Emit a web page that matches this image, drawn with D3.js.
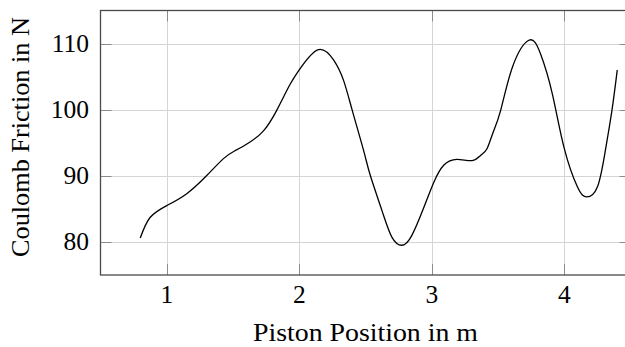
<!DOCTYPE html>
<html>
<head>
<meta charset="utf-8">
<script src="https://cdn.jsdelivr.net/npm/d3@7"></script>
<style>
  html, body { margin: 0; padding: 0; background: #fff; }
</style>
</head>
<body>
<svg id="chart" width="625" height="347"></svg>
<script>
// Coulomb friction along the piston stroke
const position = [0.80, 0.874, 1.0, 1.151, 1.30, 1.428, 1.516, 1.62, 1.73, 1.83, 1.93, 2.02, 2.146, 2.26, 2.335, 2.40, 2.486, 2.537, 2.625, 2.70, 2.776, 2.85, 2.94, 3.015, 3.09, 3.19, 3.305, 3.37, 3.417, 3.46, 3.52, 3.61, 3.733, 3.82, 3.91, 3.998, 4.10, 4.17, 4.25, 4.31, 4.36, 4.40];
const friction = [80.6, 83.7, 85.5, 87.3, 90.0, 92.6, 93.8, 95.0, 96.8, 99.9, 103.8, 106.6, 109.1, 107.5, 104.4, 99.9, 93.8, 90.0, 84.7, 80.7, 79.5, 81.0, 85.2, 89.0, 91.6, 92.5, 92.3, 93.1, 94.1, 96.4, 99.9, 106.5, 110.5, 108.5, 102.4, 94.3, 88.3, 86.8, 88.3, 93.8, 99.9, 106.0];
const xTicks = [1, 2, 3, 4];
const yTicks = [80, 90, 100, 110];

const serif = "'Liberation Serif', 'Times New Roman', Times, 'DejaVu Serif', serif";
const svg = d3.select("#chart");
const plotLeft = 100.5, plotRight = 630.5, plotTop = 10.5, plotBottom = 275;

const x = d3.scaleLinear().domain([0.5, 4.5]).range([plotLeft, plotRight]);
const y = d3.scaleLinear().domain([75, 115]).range([plotBottom, plotTop]);

// grid
const grid = svg.append("g").attr("stroke", "#d4d4d4").attr("stroke-width", 1);
grid.selectAll(".gx").data(xTicks).join("line")
  .attr("x1", d => Math.round(x(d)) + 0.5).attr("x2", d => Math.round(x(d)) + 0.5)
  .attr("y1", plotTop).attr("y2", plotBottom);
grid.selectAll(".gy").data(yTicks).join("line")
  .attr("x1", plotLeft).attr("x2", plotRight)
  .attr("y1", d => Math.round(y(d)) + 0.5).attr("y2", d => Math.round(y(d)) + 0.5);

// inward ticks on all sides
const tickLen = 11;
const ticks = svg.append("g").attr("stroke", "#8c8c8c").attr("stroke-width", 1);
xTicks.forEach(t => {
  const px = Math.round(x(t)) + 0.5;
  ticks.append("line").attr("x1", px).attr("x2", px).attr("y1", plotBottom).attr("y2", plotBottom - tickLen);
  ticks.append("line").attr("x1", px).attr("x2", px).attr("y1", plotTop).attr("y2", plotTop + tickLen);
});
yTicks.forEach(t => {
  const py = Math.round(y(t)) + 0.5;
  ticks.append("line").attr("x1", plotLeft).attr("x2", plotLeft + tickLen).attr("y1", py).attr("y2", py);
  ticks.append("line").attr("x1", plotRight).attr("x2", plotRight - tickLen).attr("y1", py).attr("y2", py);
});

// frame
svg.append("rect")
  .attr("x", plotLeft).attr("y", plotTop)
  .attr("width", plotRight - plotLeft).attr("height", plotBottom - plotTop)
  .attr("fill", "none").attr("stroke", "#4a4a4a").attr("stroke-width", 1.3);

// curve
const pts = position.map((p, i) => [p, friction[i]]);
svg.append("path")
  .datum(pts)
  .attr("fill", "none")
  .attr("stroke", "#000")
  .attr("stroke-width", 1.3)
  .attr("d", d3.line().x(d => x(d[0])).y(d => y(d[1])).curve(d3.curveNatural));

// tick labels
svg.append("g").selectAll("text").data(xTicks).join("text")
  .attr("font-family", serif)
  .attr("x", d => x(d)).attr("y", 302.5)
  .attr("text-anchor", "middle").attr("font-size", 25.5)
  .text(d => d);
svg.append("g").selectAll("text").data(yTicks).join("text")
  .attr("font-family", serif)
  .attr("x", 89).attr("y", d => y(d) + 8.5)
  .attr("text-anchor", "end").attr("font-size", 25.5)
  .text(d => d);

// axis titles
svg.append("text")
  .attr("font-family", serif)
  .attr("x", 365.5).attr("y", 341)
  .attr("text-anchor", "middle").attr("font-size", 26)
  .attr("textLength", 225).attr("lengthAdjust", "spacingAndGlyphs")
  .text("Piston Position in m");
svg.append("text")
  .attr("font-family", serif)
  .attr("transform", "translate(29,137) rotate(-90)")
  .attr("text-anchor", "middle").attr("font-size", 26)
  .attr("textLength", 240).attr("lengthAdjust", "spacingAndGlyphs")
  .text("Coulomb Friction in N");
</script>
</body>
</html>
